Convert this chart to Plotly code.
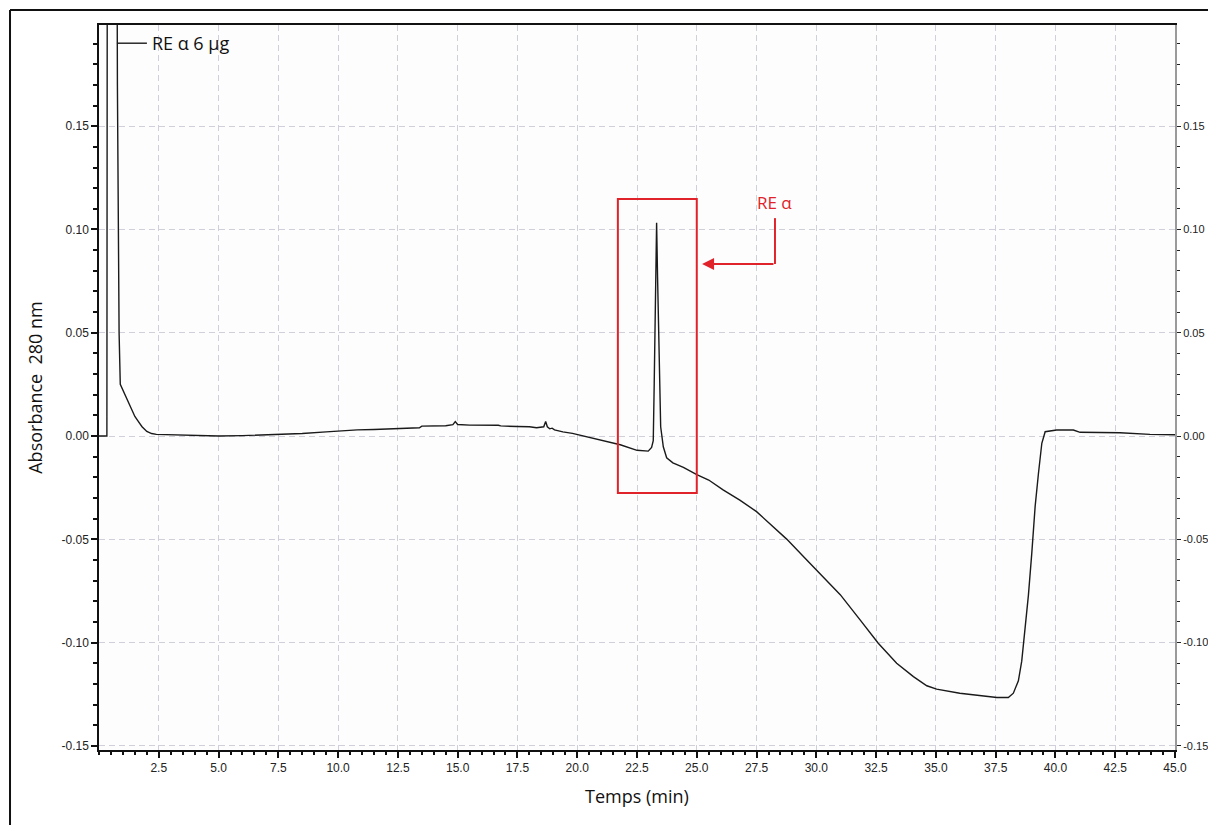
import plotly.graph_objects as go

# ---- data ----
time_min = [0.00, 0.33, 0.35, 0.74, 0.77, 0.80, 0.84, 0.89, 1.05, 1.20, 1.35, 1.50, 1.65, 1.80,
            2.00, 2.20, 2.40, 3.0, 4.0, 5.0, 6.0, 7.0, 7.5, 8.5, 9.5, 10.0, 10.8, 11.5, 12.5,
            13.4, 13.5, 14.5, 14.8, 14.9, 15.0, 15.5, 16.7, 16.8, 17.5, 18.0, 18.3, 18.6,
            18.68, 18.75, 18.85, 18.95, 19.05, 19.4, 19.8, 20.1, 20.95, 21.8, 22.5, 22.97,
            23.11, 23.18, 23.22, 23.28, 23.32, 23.36, 23.46, 23.49, 23.60, 23.74, 24.0,
            24.44, 25.0, 25.5, 26.1, 26.8, 27.5, 28.2, 28.76, 29.6, 30.15, 30.43, 31.0,
            31.83, 32.59, 33.36, 34.06, 34.62, 35.03, 36.0, 36.85, 37.55, 38.03, 38.24,
            38.45, 38.59, 38.73, 38.87, 39.01, 39.15, 39.29, 39.43, 39.57, 40.05, 40.75,
            41.03, 42.7, 43.95, 45.0]
absorbance = [0.0, 0.0, 0.30, 0.30, 0.17, 0.10, 0.05, 0.025, 0.021, 0.017, 0.013, 0.0095, 0.007,
              0.0045, 0.0022, 0.0012, 0.0008, 0.0006, 0.0004, 0.0000, 0.0002, 0.0005, 0.0007,
              0.0012, 0.0020, 0.0024, 0.0030, 0.0032, 0.0037, 0.0040, 0.0048, 0.0050, 0.0055,
              0.0070, 0.0056, 0.0053, 0.0052, 0.0049, 0.0046, 0.0045, 0.0040, 0.0045, 0.0070,
              0.0045, 0.0035, 0.0038, 0.0030, 0.0020, 0.0013, 0.0005, -0.0016, -0.0042,
              -0.0069, -0.0073, -0.0055, -0.0022, 0.0255, 0.077, 0.1032, 0.077, 0.030,
              0.0045, -0.0052, -0.0105, -0.0130, -0.0152, -0.0187, -0.0213, -0.0261,
              -0.0310, -0.0366, -0.0439, -0.0499, -0.0600, -0.0667, -0.0700, -0.0768,
              -0.0890, -0.1003, -0.1100, -0.1165, -0.1209, -0.1225, -0.1245, -0.1258,
              -0.1266, -0.1266, -0.1245, -0.1185, -0.1090, -0.0930, -0.0770, -0.0568,
              -0.0342, -0.0180, -0.0035, 0.0021, 0.0029, 0.0029, 0.0018, 0.0016, 0.0008,
              0.0006]
series_name = "RE \u03b1 6 \u00b5g"

x_ticks = [2.5 * i for i in range(1, 19)]
x_ticklabels = ["%.1f" % v for v in x_ticks]
y_ticks = [-0.15, -0.10, -0.05, 0.00, 0.05, 0.10, 0.15]
y_ticklabels = ["%.2f" % v for v in y_ticks]
x_range = [0, 45]
y_range = [-0.152, 0.199]

# annotation (highlight box + arrow) in data units
box_x = [21.7, 25.0]
box_y = [-0.0276, 0.1147]
arrow_tail = (28.27, 0.0833)
arrow_head = (25.22, 0.0833)
label_top = 0.1055
peak_label = "RE \u03b1"
red = "#e0232a"

tick_font = dict(family="Liberation Sans, Arial, sans-serif", size=12, color="#222")
right_tick_font = dict(family="Liberation Sans, Arial, sans-serif", size=11, color="#222")
title_font = dict(family="Open Sans, sans-serif", size=18, color="#111")

fig = go.Figure()
fig.add_trace(go.Scatter(x=time_min, y=absorbance, mode="lines", name=series_name,
                         line=dict(color="#1a1a1a", width=1.4), showlegend=True))
# ghost trace so the mirrored right-hand axis is drawn
fig.add_trace(go.Scatter(x=time_min, y=absorbance, mode="lines", yaxis="y2",
                         line=dict(color="rgba(0,0,0,0)", width=0), showlegend=False,
                         hoverinfo="skip"))

common_grid = dict(showgrid=True, gridcolor="#cfd0d9", griddash="6px,4px", gridwidth=1)

fig.update_layout(
    width=1208, height=825,
    margin=dict(l=99, r=33, t=25, b=75, autoexpand=False),
    paper_bgcolor="white", plot_bgcolor="#fdfdfd",
    showlegend=True,
    legend=dict(x=0.012, y=1.0, xanchor="left", yanchor="top",
                bgcolor="rgba(0,0,0,0)", borderwidth=0,
                font=dict(family="Open Sans, sans-serif", size=18, color="#111"),
                itemwidth=30),
    xaxis=dict(range=x_range, tickmode="array", tickvals=x_ticks, ticktext=x_ticklabels,
               ticks="outside", ticklen=6, tickwidth=1.5, tickcolor="#111",
               minor=dict(dtick=0.5, ticks="outside", ticklen=3, tickcolor="#111", showgrid=False),
               showline=True, linecolor="#111", linewidth=1.5, mirror=True,
               tickfont=tick_font, zeroline=False, automargin=False,
               title=dict(text="Temps (min)", font=title_font, standoff=16),
               **common_grid),
    yaxis=dict(range=y_range, tickmode="array", tickvals=y_ticks, ticktext=y_ticklabels,
               ticks="outside", ticklen=6, tickwidth=1.5, tickcolor="#111",
               minor=dict(dtick=0.01, tick0=0, ticks="outside", ticklen=4, tickcolor="#111", showgrid=False),
               showline=True, linecolor="#111", linewidth=1.5,
               tickfont=tick_font, zeroline=False, automargin=False,
               title=dict(text="Absorbance  280 nm", font=title_font, standoff=14),
               **common_grid),
    yaxis2=dict(range=y_range, overlaying="y", side="right", anchor="x",
                tickmode="array", tickvals=y_ticks, ticktext=y_ticklabels,
                ticks="outside", ticklen=4, tickwidth=1, tickcolor="#222",
                minor=dict(dtick=0.01, tick0=0, ticks="outside", ticklen=3, tickcolor="#222", showgrid=False),
                showline=True, linecolor="#9a9a9a", linewidth=2, automargin=False,
                tickfont=right_tick_font, showgrid=False, zeroline=False),
)

# highlight box around the RE alpha peak
fig.add_shape(type="rect", xref="x", yref="y", x0=box_x[0], x1=box_x[1], y0=box_y[0], y1=box_y[1],
              line=dict(color=red, width=2), fillcolor="rgba(0,0,0,0)")
# vertical leg of the callout
fig.add_shape(type="line", xref="x", yref="y", x0=arrow_tail[0], x1=arrow_tail[0],
              y0=label_top, y1=arrow_tail[1], line=dict(color=red, width=2))
# arrow pointing to the box
fig.add_annotation(x=arrow_head[0], y=arrow_head[1], ax=arrow_tail[0], ay=arrow_tail[1],
                   xref="x", yref="y", axref="x", ayref="y", text="", showarrow=True,
                   arrowhead=2, arrowsize=1.2, arrowwidth=2, arrowcolor=red)
fig.add_annotation(x=arrow_tail[0], y=label_top, xref="x", yref="y", text=peak_label,
                   showarrow=False, yanchor="bottom", xanchor="center", yshift=2,
                   font=dict(family="Open Sans, sans-serif", size=17, color=red))

# outer picture frame
fig.add_shape(type="line", xref="paper", yref="paper", x0=-0.0827, x1=-0.0827, y0=1.0207, y1=-0.2,
              line=dict(color="#111", width=2))
fig.add_shape(type="line", xref="paper", yref="paper", x0=-0.0827, x1=1.2, y0=1.0207, y1=1.0207,
              line=dict(color="#111", width=2))

fig.write_html("out.html", config={"displayModeBar": False},
               post_script="document.body.style.margin='0';document.body.style.overflow='hidden';")
